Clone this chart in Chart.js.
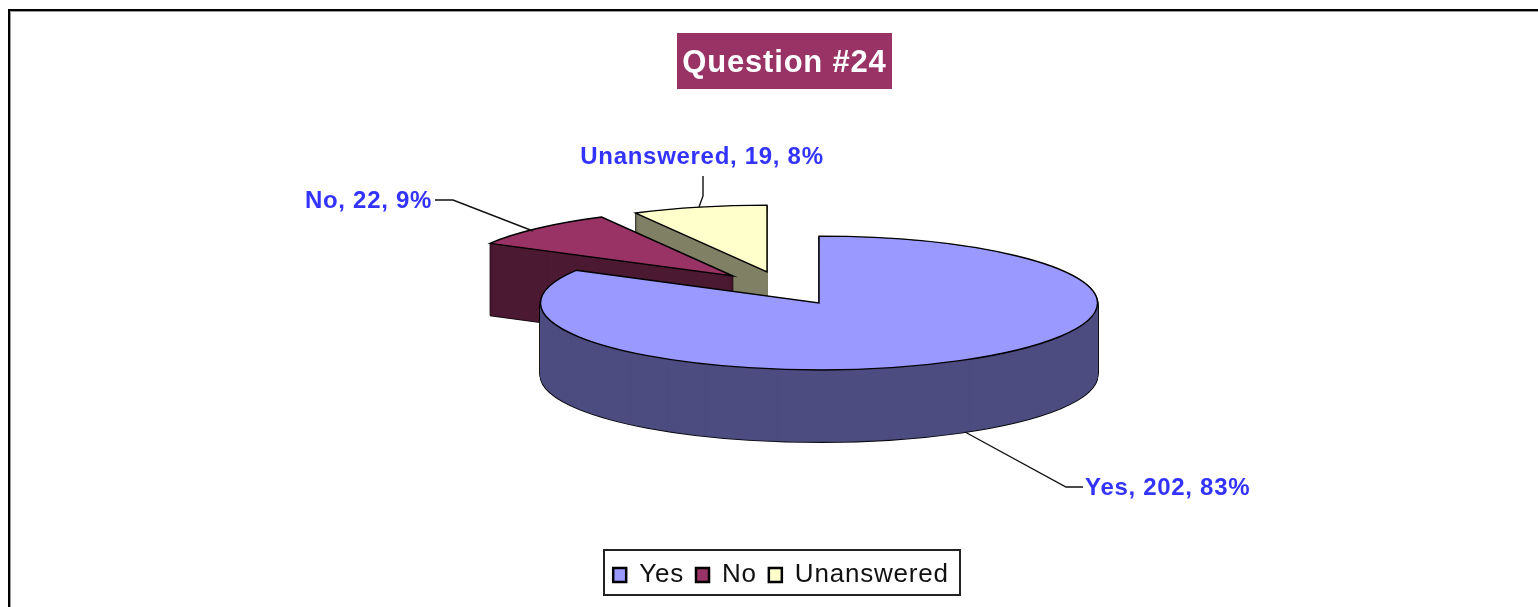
<!DOCTYPE html>
<html>
<head>
<meta charset="utf-8">
<script src="https://cdn.jsdelivr.net/npm/chart.js@4"></script>
<style>
html,body{margin:0;padding:0;background:#fff;overflow:hidden}
canvas{display:block}
</style>
</head>
<body>
<canvas id="c" width="1538" height="607"></canvas>
<script>
const categories = ['Yes', 'No', 'Unanswered'];
const counts = [202, 22, 19];
const topColors = ['#9999ff', '#993366', '#ffffcc'];
const sideColors = ['#4d4d80', '#4d1a33', '#808066'];
const titleText = 'Question #24';

// presentation of the tilted, exploded pie
const squash = 0.24;
const depth = 72;
const explodeDX = [0, -86, -52];
const explodeDY = [0, -27, -31];
const drawOrder = [2, 1, 0];
const pieBox = {left: 540, right: 1098, top: 24, bottom: 582};
const legendNudge = -3.5;

// callout placement: text anchor, then leader polyline
const calloutAnchor = [[1085, 488, 'left'], [432, 201, 'right'], [702, 157, 'center']];
const calloutLeader = [
  [[965, 432], [1066, 487], [1083, 487]],
  [[533, 231], [453, 200], [435, 200]],
  [[699, 207], [703, 196], [703, 176]]
];
const FONT = "'Liberation Sans', Arial, sans-serif";
const SPACING = '0.8px';
const CALLOUT_SPACING = '0.7px';

const total = counts.reduce((a, b) => a + b, 0);
const calloutText = categories.map((c, i) => `${c}, ${counts[i]}, ${Math.round(counts[i] / total * 100)}%`);

function styled(el, opts) {
  const clone = Object.create(el);
  clone.options = Object.assign({}, el.options, opts);
  return clone;
}

const tiltedPie = {
  id: 'tiltedPie',
  beforeUpdate(chart) { chart.ctx.letterSpacing = SPACING; },
  afterLayout(chart) {
    Object.assign(chart.chartArea, pieBox, {width: pieBox.right - pieBox.left, height: pieBox.bottom - pieBox.top});
    const lg = chart.legend;
    lg.left += legendNudge;
    lg.right += legendNudge;
    lg.legendHitBoxes.forEach(b => { b.left += legendNudge; });
  },
  beforeDraw(chart) {
    const ctx = chart.ctx;
    ctx.letterSpacing = SPACING;
    ctx.save();
    // outer frame
    ctx.fillStyle = '#000';
    ctx.fillRect(8, 9, 1530, 2);
    ctx.fillRect(8, 9, 2, 598);
    ctx.fillStyle = '#999';
    ctx.fillRect(10, 11, 1528, 1);
    ctx.fillRect(10, 11, 1, 596);
    // title plate
    const t = chart.titleBlock;
    const cx = (t.left + t.right) / 2, cy = (t.top + t.bottom) / 2;
    ctx.fillStyle = '#993366';
    ctx.fillRect(Math.round(cx - 107.5), Math.round(cy - 31), 215, 56);
    ctx.restore();
  },
  beforeDatasetsDraw(chart) {
    const ctx = chart.ctx;
    const arcs = chart.getDatasetMeta(0).data;
    const nativeStroke = ctx.stroke;
    ctx.stroke = function () {
      ctx.save();
      ctx.setTransform(1, 0, 0, 1, 0, 0);
      nativeStroke.call(ctx);
      ctx.restore();
    };
    const paint = (el, i, k, opts) => {
      ctx.save();
      ctx.translate(el.x + explodeDX[i], el.y + explodeDY[i] + k);
      ctx.scale(1, squash);
      ctx.translate(-el.x, -el.y);
      el.draw.call(styled(el, opts), ctx);
      ctx.restore();
    };
    for (const i of drawOrder) {
      const el = arcs[i];
      for (let k = depth; k >= 1; k--) paint(el, i, k, {backgroundColor: 'rgba(0,0,0,0)', borderColor: '#000', borderWidth: 2, borderJoinStyle: 'bevel'});
      for (let k = depth; k >= 1; k--) paint(el, i, k, {backgroundColor: sideColors[i], borderColor: sideColors[i], borderWidth: 0.5, borderJoinStyle: 'bevel'});
      paint(el, i, 0, {backgroundColor: topColors[i], borderColor: '#000', borderWidth: 1.4, borderJoinStyle: 'miter'});
    }
    delete ctx.stroke;
    return false;
  },
  afterDraw(chart) {
    const ctx = chart.ctx;
    ctx.save();
    // leaders and callouts
    ctx.strokeStyle = '#111';
    ctx.lineWidth = 1.4;
    calloutLeader.forEach(line => {
      ctx.beginPath();
      line.forEach(([x, y], j) => j ? ctx.lineTo(x, y) : ctx.moveTo(x, y));
      ctx.stroke();
    });
    ctx.fillStyle = '#3333ff';
    ctx.font = `bold 24px ${FONT}`;
    ctx.letterSpacing = CALLOUT_SPACING;
    ctx.textBaseline = 'middle';
    calloutText.forEach((s, i) => {
      const [x, y, align] = calloutAnchor[i];
      ctx.textAlign = align;
      ctx.fillText(s, x, y);
    });
    // legend frame
    const hb = chart.legend.legendHitBoxes;
    const left = Math.min(...hb.map(b => b.left)) - 9;
    const right = Math.max(...hb.map(b => b.left + b.width)) + 11;
    const midY = hb[0].top + hb[0].height / 2;
    ctx.strokeStyle = '#222';
    ctx.lineWidth = 2;
    ctx.strokeRect(Math.round(left), Math.round(midY - 25.5), Math.round(right - left), 45);
    ctx.restore();
  }
};

new Chart(document.getElementById('c'), {
  type: 'pie',
  plugins: [tiltedPie],
  data: {
    labels: categories,
    datasets: [{data: counts, backgroundColor: topColors, borderColor: '#000', borderWidth: 1}]
  },
  options: {
    responsive: false,
    devicePixelRatio: 1,
    animation: false,
    events: [],
    layout: {padding: {left: 31, right: 0, top: 45, bottom: 9}},
    plugins: {
      tooltip: {enabled: false},
      title: {display: true, text: titleText, color: '#fff', padding: 0, font: {family: FONT, size: 31, weight: 'bold'}},
      legend: {
        position: 'bottom',
        labels: {
          boxWidth: 13, boxHeight: 14, padding: 12, color: '#111',
          font: {family: FONT, size: 26},
          generateLabels: () => categories.map((c, i) => ({text: c, fillStyle: topColors[i], strokeStyle: '#000', lineWidth: 2.5, fontColor: '#111', hidden: false, index: i}))
        }
      }
    }
  }
});
</script>
</body>
</html>
